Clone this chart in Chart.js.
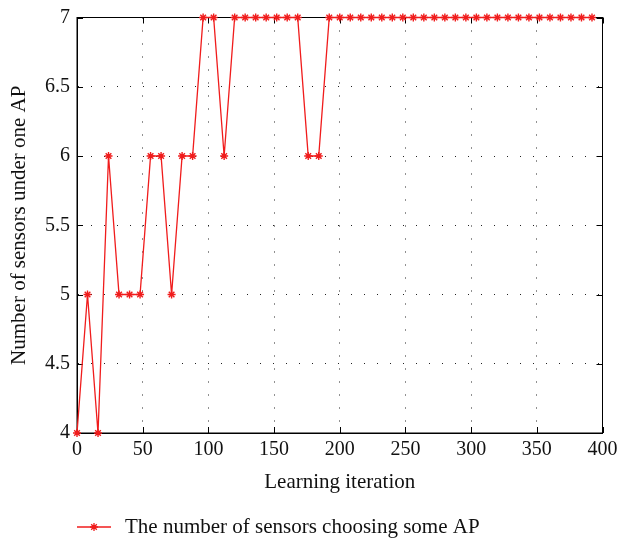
<!DOCTYPE html>
<html>
<head>
<meta charset="utf-8">
<script src="https://cdn.jsdelivr.net/npm/chart.js@4/dist/chart.umd.min.js"></script>
<style>
  html, body { margin: 0; padding: 0; background: #fff; }
  canvas { display: block; }
</style>
</head>
<body>
<canvas id="myChart" width="618" height="541"></canvas>
<script>
  "use strict";

  // Chart data
  var iterations = [0, 8, 16, 24, 32, 40, 48, 56, 64, 72, 80, 88, 96, 104, 112, 120, 128, 136, 144, 152,
    160, 168, 176, 184, 192, 200, 208, 216, 224, 232, 240, 248, 256, 264, 272, 280, 288, 296, 304, 312,
    320, 328, 336, 344, 352, 360, 368, 376, 384, 392];
  var sensorCounts = [4, 5, 4, 6, 5, 5, 5, 6, 6, 5, 6, 6, 7, 7, 6, 7, 7, 7, 7, 7,
    7, 7, 6, 6, 7, 7, 7, 7, 7, 7, 7, 7, 7, 7, 7, 7, 7, 7, 7, 7,
    7, 7, 7, 7, 7, 7, 7, 7, 7, 7];
  var xTicks = [0, 50, 100, 150, 200, 250, 300, 350, 400];
  var yTicks = [4, 4.5, 5, 5.5, 6, 6.5, 7];
  var seriesLabel = 'The number of sensors choosing some AP';
  var xTitle = 'Learning iteration';
  var yTitle = 'Number of sensors under one AP';

  var serif = "'Liberation Serif', 'Times New Roman', serif";
  var red = 'rgb(240, 28, 28)';

  // Box round the plot plus MATLAB-style inner tick marks
  var framePlugin = {
    id: 'frame',
    beforeDatasetsDraw: function (chart) {
      var ctx = chart.ctx;
      var a = chart.chartArea;
      var xs = chart.scales.x;
      var ys = chart.scales.y;
      var len = 6;
      ctx.save();
      ctx.strokeStyle = '#000';
      ctx.lineWidth = 1;
      ctx.strokeRect(a.left, a.top, a.right - a.left, a.bottom - a.top);
      ctx.beginPath();
      xTicks.forEach(function (v) {
        var px = Math.round(xs.getPixelForValue(v)) + 0.5;
        ctx.moveTo(px, a.bottom); ctx.lineTo(px, a.bottom - len);
        ctx.moveTo(px, a.top); ctx.lineTo(px, a.top + len);
      });
      yTicks.forEach(function (v) {
        var py = Math.round(ys.getPixelForValue(v)) + 0.5;
        ctx.moveTo(a.left, py); ctx.lineTo(a.left + len, py);
        ctx.moveTo(a.right, py); ctx.lineTo(a.right - len, py);
      });
      ctx.stroke();
      ctx.restore();
    },
    afterDraw: function (chart) {
      // legend below the axis title
      var ctx = chart.ctx;
      var y = 527;
      ctx.save();
      ctx.strokeStyle = red;
      ctx.lineWidth = 1.3;
      ctx.beginPath();
      ctx.moveTo(77, y); ctx.lineTo(111, y);
      ctx.stroke();
      Chart.helpers.drawPoint(ctx, { pointStyle: 'star', radius: 4, rotation: 0, borderWidth: 1.4 }, 94, y);
      ctx.fillStyle = '#111';
      ctx.font = '21px ' + serif;
      ctx.textBaseline = 'middle';
      ctx.textAlign = 'left';
      ctx.fillText(seriesLabel, 125, y);
      ctx.restore();
    }
  };

  var points = iterations.map(function (x, i) {
    return { x: x, y: sensorCounts[i] };
  });

  var ctx = document.getElementById('myChart').getContext('2d');
  var myChart = new Chart(ctx, {
    type: 'line',
    data: {
      datasets: [
        {
          label: seriesLabel,
          data: points,
          borderColor: red,
          backgroundColor: red,
          borderWidth: 1.3,
          pointStyle: 'star',
          pointRadius: 4,
          pointBorderWidth: 1.4,
          pointBorderColor: red,
          tension: 0,
          clip: false,
        },
      ],
    },
    options: {
      responsive: false,
      animation: false,
      events: [],
      layout: { padding: { left: 0, top: 17.5, right: 15.5, bottom: 43 } },
      scales: {
        x: {
          type: 'linear',
          min: 0,
          max: 400,
          afterBuildTicks: function (scale) {
            scale.ticks = xTicks.map(function (v) { return { value: v }; });
          },
          afterFit: function (scale) {
            scale.height = 65;
            scale.paddingLeft = 0;
            scale.paddingRight = 0;
          },
          grid: { color: '#222', lineWidth: 1, drawTicks: false },
          border: { display: true, color: '#000', width: 1, dash: [1, 12] },
          ticks: {
            color: '#111',
            padding: 5,
            maxRotation: 0,
            font: { family: serif, size: 20 },
            callback: function (v) { return String(v); },
          },
          title: {
            display: true,
            text: xTitle,
            color: '#111',
            font: { family: serif, size: 21 },
            padding: { top: 4, bottom: 3 },
          },
        },
        y: {
          type: 'linear',
          min: 4,
          max: 7,
          afterBuildTicks: function (scale) {
            scale.ticks = yTicks.map(function (v) { return { value: v }; });
          },
          afterFit: function (scale) {
            scale.width = 77;
            scale.paddingTop = 0;
            scale.paddingBottom = 0;
          },
          grid: { color: '#222', lineWidth: 1, drawTicks: false },
          border: { display: true, color: '#000', width: 1, dash: [1, 12] },
          ticks: {
            color: '#111',
            padding: 7,
            font: { family: serif, size: 20 },
            callback: function (v) { return String(v); },
          },
          title: {
            display: true,
            text: yTitle,
            color: '#111',
            font: { family: serif, size: 21 },
            padding: { top: 7, bottom: 4 },
          },
        },
      },
      plugins: {
        legend: { display: false },
        tooltip: { enabled: false },
      },
    },
    plugins: [framePlugin],
  });
</script>
</body>
</html>
